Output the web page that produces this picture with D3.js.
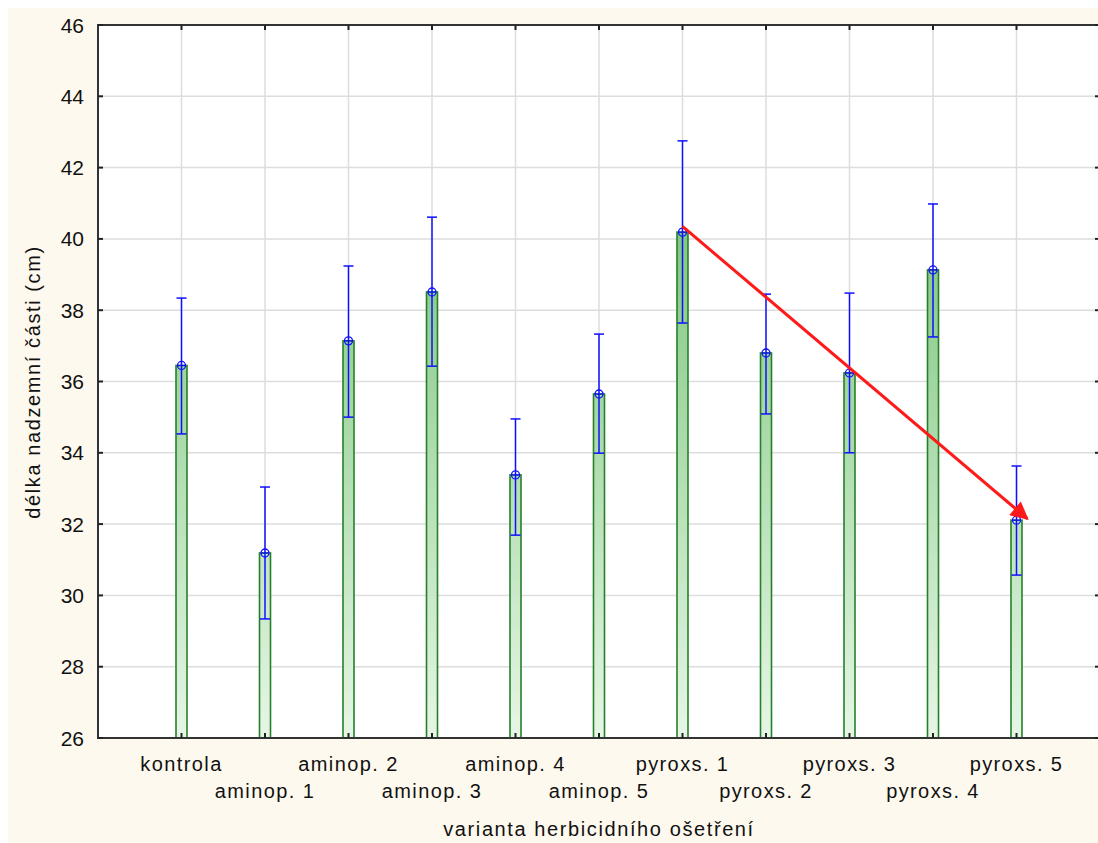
<!DOCTYPE html>
<html>
<head>
<meta charset="utf-8">
<script src="https://cdn.jsdelivr.net/npm/d3@7"></script>
<style>
  body { margin: 0; background: #ffffff; }
  text { font-family: "Liberation Sans", Arial, sans-serif; fill: #111; }
</style>
</head>
<body>
<div id="chart"></div>
<script>
// chart values
const categories = ["kontrola", "aminop. 1", "aminop. 2", "aminop. 3", "aminop. 4", "aminop. 5",
                    "pyroxs. 1", "pyroxs. 2", "pyroxs. 3", "pyroxs. 4", "pyroxs. 5"];
const means  = [36.45, 31.19, 37.14, 38.51, 33.38, 35.65, 40.19, 36.80, 36.24, 39.13, 32.11];
const lower  = [34.53, 29.34, 35.00, 36.43, 31.69, 33.99, 37.64, 35.09, 34.00, 37.25, 30.57];
const upper  = [38.34, 33.04, 39.24, 40.61, 34.95, 37.33, 42.75, 38.45, 38.48, 40.98, 33.63];
const yTicks = [26, 28, 30, 32, 34, 36, 38, 40, 42, 44, 46];
// red arrow: [category position (1 = first category), value]
const arrowFrom = [7, 40.35];
const arrowTo   = [11.13, 32.15];

const W = 1098, H = 843;
const margin = {top: 25, right: -2, bottom: 105, left: 98};
const width = W - margin.left - margin.right;
const height = H - margin.top - margin.bottom;

const svg = d3.select("#chart").append("svg")
    .attr("width", W)
    .attr("height", H);

svg.append("rect")
    .attr("x", 8).attr("y", 8)
    .attr("width", W - 8).attr("height", H - 8)
    .attr("fill", "#fef9ee");

const defs = svg.append("defs");
const grad = defs.append("linearGradient")
    .attr("id", "barGrad")
    .attr("gradientUnits", "userSpaceOnUse")
    .attr("x1", 0).attr("y1", 0).attr("x2", 0).attr("y2", height);
grad.append("stop").attr("offset", "0%").attr("stop-color", "#5ab55a");
grad.append("stop").attr("offset", "100%").attr("stop-color", "#e6f6e6");

defs.append("marker")
    .attr("id", "arrowHead")
    .attr("viewBox", "0 0 10 10")
    .attr("refX", 9).attr("refY", 5)
    .attr("markerWidth", 6.5).attr("markerHeight", 6)
    .attr("markerUnits", "strokeWidth")
    .attr("orient", "auto")
    .append("path")
    .attr("d", "M0,0 L10,5 L0,10 Z")
    .attr("fill", "#ff1a1a");

const g = svg.append("g")
    .attr("transform", `translate(${margin.left},${margin.top})`);

g.append("rect")
    .attr("width", width).attr("height", height)
    .attr("fill", "#ffffff");

const x = d3.scaleLinear().domain([0, 12]).range([0, width]);
const y = d3.scaleLinear().domain([26, 46]).range([height, 0]);
const pos = i => x(i + 1);

// grid
g.append("g").selectAll("line")
    .data(yTicks.slice(1, -1))
    .join("line")
    .attr("x1", 0).attr("x2", width)
    .attr("y1", d => y(d)).attr("y2", d => y(d))
    .attr("stroke", "#dddddd").attr("stroke-width", 1.5);

g.append("g").selectAll("line")
    .data(categories)
    .join("line")
    .attr("x1", (d, i) => pos(i)).attr("x2", (d, i) => pos(i))
    .attr("y1", 0).attr("y2", height)
    .attr("stroke", "#dddddd").attr("stroke-width", 1.5);

// bars
const barW = 11;
g.append("g").selectAll("rect")
    .data(means)
    .join("rect")
    .attr("x", (d, i) => pos(i) - barW / 2)
    .attr("y", d => y(d))
    .attr("width", barW)
    .attr("height", d => height - y(d))
    .attr("fill", "url(#barGrad)")
    .attr("stroke", "#26802a")
    .attr("stroke-width", 1.6);

// error bars
const blue = "#1010ff";
const eb = g.append("g");
categories.forEach((c, i) => {
    const cx = pos(i);
    eb.append("line")
        .attr("x1", cx).attr("x2", cx)
        .attr("y1", y(upper[i])).attr("y2", y(lower[i]))
        .attr("stroke", blue).attr("stroke-width", 1.5);
    eb.append("line")
        .attr("x1", cx - 5).attr("x2", cx + 5)
        .attr("y1", y(upper[i])).attr("y2", y(upper[i]))
        .attr("stroke", blue).attr("stroke-width", 1.5);
    eb.append("line")
        .attr("x1", cx - 5).attr("x2", cx + 5)
        .attr("y1", y(lower[i])).attr("y2", y(lower[i]))
        .attr("stroke", blue).attr("stroke-width", 1.5);
    eb.append("circle")
        .attr("cx", cx).attr("cy", y(means[i]))
        .attr("r", 4)
        .attr("fill", "none")
        .attr("stroke", blue).attr("stroke-width", 1.3);
    eb.append("line")
        .attr("x1", cx - 4).attr("x2", cx + 4)
        .attr("y1", y(means[i])).attr("y2", y(means[i]))
        .attr("stroke", blue).attr("stroke-width", 1.2);
});

// arrow
g.append("line")
    .attr("x1", x(arrowFrom[0])).attr("y1", y(arrowFrom[1]))
    .attr("x2", x(arrowTo[0])).attr("y2", y(arrowTo[1]))
    .attr("stroke", "#ff1a1a")
    .attr("stroke-width", 3)
    .attr("marker-end", "url(#arrowHead)");

// frame and inward ticks
g.append("rect")
    .attr("width", width).attr("height", height)
    .attr("fill", "none")
    .attr("stroke", "#333").attr("stroke-width", 2);

const tick = g.append("g").attr("stroke", "#222").attr("stroke-width", 2);
yTicks.forEach(t => {
    tick.append("line").attr("x1", 0).attr("x2", 5).attr("y1", y(t)).attr("y2", y(t));
    tick.append("line").attr("x1", width).attr("x2", width - 5).attr("y1", y(t)).attr("y2", y(t));
});
categories.forEach((c, i) => {
    tick.append("line").attr("x1", pos(i)).attr("x2", pos(i)).attr("y1", height).attr("y2", height - 5);
    tick.append("line").attr("x1", pos(i)).attr("x2", pos(i)).attr("y1", 0).attr("y2", 5);
});

// y tick labels
g.append("g").selectAll("text")
    .data(yTicks)
    .join("text")
    .attr("x", -14)
    .attr("y", d => y(d))
    .attr("dy", "0.36em")
    .attr("text-anchor", "end")
    .style("font-size", "21px")
    .text(d => d);

// x tick labels, staggered
g.append("g").selectAll("text")
    .data(categories)
    .join("text")
    .attr("x", (d, i) => pos(i))
    .attr("y", (d, i) => height + (i % 2 === 0 ? 33 : 60))
    .attr("text-anchor", "middle")
    .style("font-size", "20px")
    .style("letter-spacing", "1.4px")
    .text(d => d);

// axis titles
svg.append("text")
    .attr("x", margin.left + x(6))
    .attr("y", 836)
    .attr("text-anchor", "middle")
    .style("font-size", "20px")
    .style("letter-spacing", "1.6px")
    .text("varianta herbicidního ošetření");

svg.append("text")
    .attr("transform", `translate(40,382) rotate(-90)`)
    .attr("text-anchor", "middle")
    .style("font-size", "20px")
    .style("letter-spacing", "1.6px")
    .text("délka nadzemní části (cm)");
</script>
</body>
</html>
